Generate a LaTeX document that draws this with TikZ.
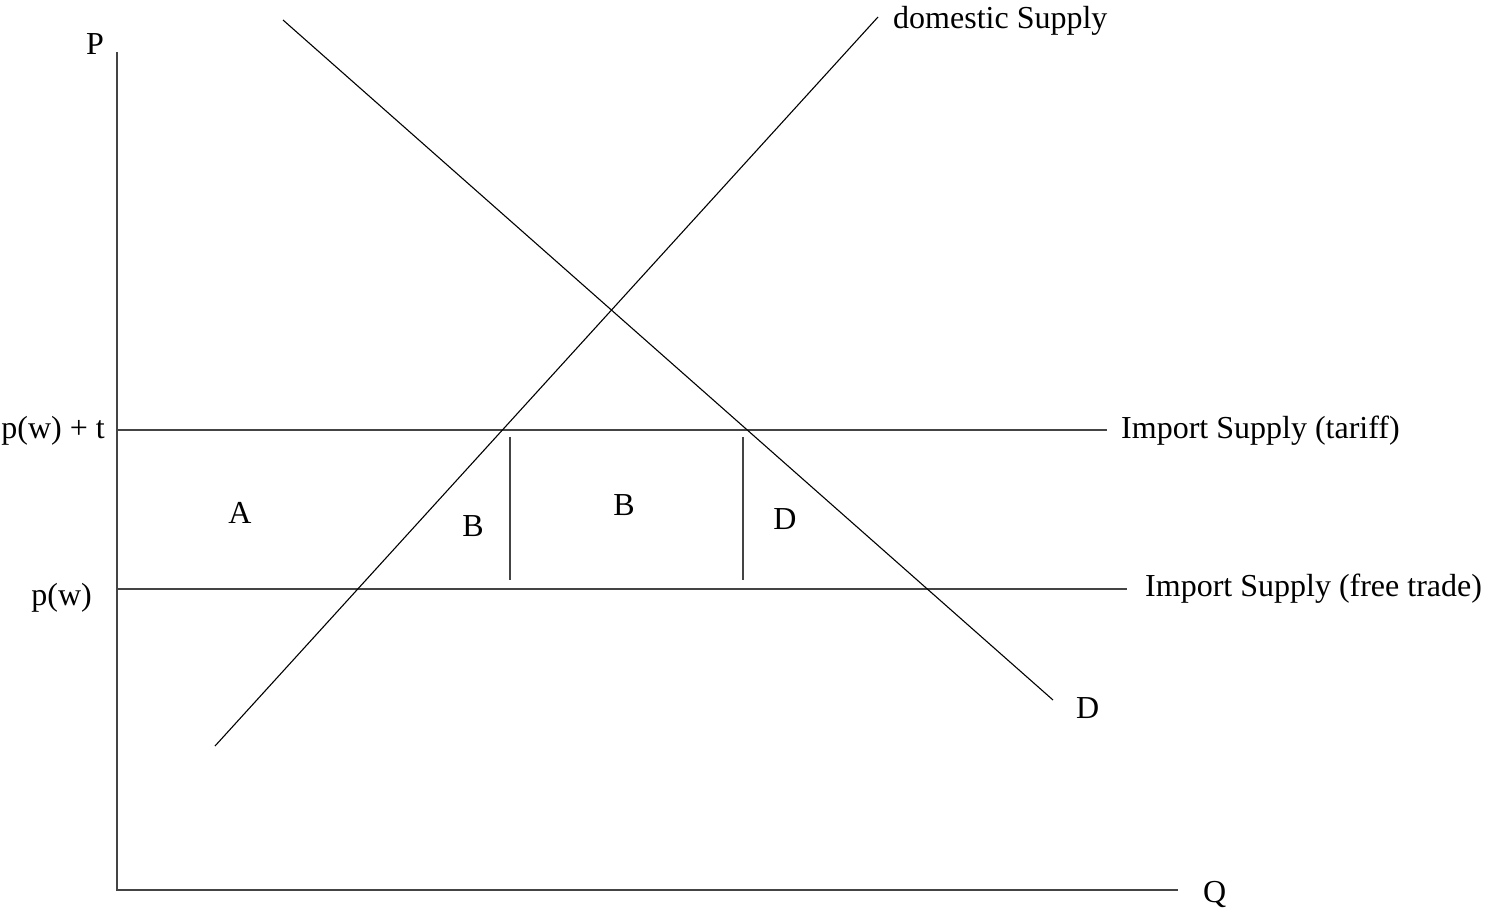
\documentclass[tikz,border=0pt]{standalone}
\usepackage{fontspec}
\setmainfont{Liberation Serif}
\usetikzlibrary{positioning,calc}
\definecolor{axisgray}{HTML}{444444}

\begin{document}
\begin{tikzpicture}[
  x=1pt,y=-1pt,
  lbl/.style={font=\fontsize{32}{35}\selectfont,inner sep=0pt},
  axis/.style={line width=1.4pt,color=axisgray},
  curve/.style={line width=1.1pt,color=black},
  level/.style={line width=1.3pt,color=axisgray},
  tick/.style={line width=1.3pt,color=axisgray}
]
\useasboundingbox (0,0) rectangle (1485,916);
% axes
\coordinate (origin) at (117,890);
\coordinate (ytop) at (117,52);
\coordinate (xend) at (1178,890);
\draw[axis] (ytop) -- (origin) -- (xend);
\node[lbl] (plabel) at (95,44) {P};
\node[lbl,anchor=west] (qlabel) at (1203,894) {Q};
% price levels
\coordinate (tarL) at (117,430);
\coordinate (tarR) at (1107,430);
\coordinate (freeL) at (117,589);
\coordinate (freeR) at (1127,589);
\draw[level] (tarL) -- (tarR);
\draw[level] (freeL) -- (freeR);
\node[lbl,anchor=east] (pwt) at (105,431) {p(w) + t};
\node[lbl,anchor=east] (pw) at (92,598) {p(w)};
\node[lbl,anchor=west] (tarlbl) at (1121,431) {Import Supply (tariff)};
\node[lbl,anchor=west] (freelbl) at (1145,589) {Import Supply (free trade)};
% supply and demand
\coordinate (supLo) at (215,746);
\coordinate (supHi) at (878,17);
\coordinate (demHi) at (283,20);
\coordinate (demLo) at (1053,700);
\draw[curve] (supLo) -- (supHi);
\draw[curve] (demHi) -- (demLo);
\node[lbl,anchor=west] (suplbl) at (893,21) {domestic Supply};
\node[lbl,anchor=west] (demlbl) at (1076,708) {D};
% tariff areas
\coordinate (b1top) at (510,437);
\coordinate (b1bot) at (510,580);
\coordinate (b2top) at (743,437);
\coordinate (b2bot) at (743,580);
\draw[tick] (b1top) -- (b1bot);
\draw[tick] (b2top) -- (b2bot);
\node[lbl] (areaA) at (240,513) {A};
\node[lbl] (areaB1) at (473,526) {B};
\node[lbl] (areaB2) at (624,505) {B};
\node[lbl] (areaD) at (785,519) {D};
\end{tikzpicture}
\end{document}
